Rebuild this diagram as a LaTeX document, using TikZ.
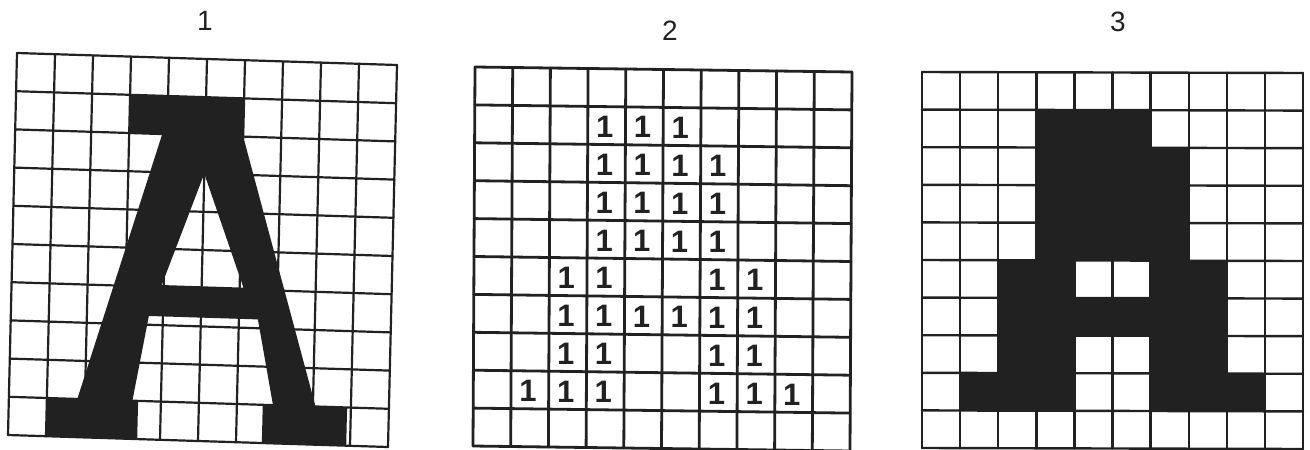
\documentclass[tikz,border=0pt]{standalone}
\usepackage{fontspec}
\setmainfont{Liberation Sans}
\definecolor{inkc}{gray}{0.13}
\begin{document}
\begin{tikzpicture}[x=1pt,y=-1pt,
  gl/.style={line width=#1, draw=inkc, line cap=round},
  ink/.style={fill=inkc, even odd rule},
  lbl/.style={font=\fontsize{28}{30}\selectfont, inner sep=0pt, text=inkc},
  one/.style={font=\bfseries\fontsize{31}{32}\selectfont, inner sep=0pt, text=inkc}]
\useasboundingbox (0,0) rectangle (1310,450);
\fill[white] (0,0) rectangle (1310,450);

% captions
\node[lbl] (lab1) at (205,21) {1};
\node[lbl] (lab2) at (670,31) {2};
\node[lbl] (lab3) at (1118,22) {3};

% grid 1 : drawn letter A
\begin{scope}[shift={(17pt,-53pt)}, x={(38pt,-1.2pt)}, y={(-0.9pt,-38.2pt)}]
  \foreach \i in {0,...,10} {
    \draw[gl=2.2pt] (\i,0) -- (\i,10);
    \draw[gl=2.2pt] (0,\i) -- (10,\i);
  }
  \fill[ink] (3,1) -- (6,1) -- (6,2) -- (8.07,9) -- (8.9,9) -- (8.9,10) -- (6.68,10) -- (6.68,9)
    -- (6.95,9) -- (6.5,6.77) -- (3.63,6.77) -- (3.25,9) -- (3.4,9) -- (3.4,10) -- (1,10)
    -- (1,9) -- (1.8,9) -- (3.87,2) -- (3,2) -- cycle
    (5,3) -- (6.1,5.95) -- (3.95,5.95) -- cycle;
\end{scope}

% grid 2 : ones
\begin{scope}[shift={(475pt,-67pt)}, x={(37.7pt,-0.5pt)}, y={(-0.2pt,-37.9pt)}]
  \foreach \i in {0,...,10} {
    \draw[gl=2.8pt] (\i,0) -- (\i,10);
    \draw[gl=2.8pt] (0,\i) -- (10,\i);
  }
  \foreach \c/\r in {3/1,4/1,5/1,
                     3/2,4/2,5/2,6/2,
                     3/3,4/3,5/3,6/3,
                     3/4,4/4,5/4,6/4,
                     2/5,3/5,6/5,7/5,
                     2/6,3/6,4/6,5/6,6/6,7/6,
                     2/7,3/7,6/7,7/7,
                     1/8,2/8,3/8,6/8,7/8,8/8}
    \node[one] (o-\c-\r) at (\c+0.45,\r+0.53) {1};
\end{scope}

% grid 3 : filled cells
\begin{scope}[shift={(922pt,-72pt)}, x={(38.1pt,-0.1pt)}, y={(0pt,-37.6pt)}]
  \fill[ink] (3,1) -- (6,1) -- (6,2) -- (7,2) -- (7,5) -- (8,5) -- (8,8) -- (9,8) -- (9,9)
    -- (6,9) -- (6,7) -- (4,7) -- (4,9) -- (1,9) -- (1,8) -- (2,8) -- (2,5) -- (3,5) -- cycle
    (4,5) -- (6,5) -- (6,6) -- (4,6) -- cycle;
  \foreach \i in {0,...,10} {
    \draw[gl=2.4pt] (\i,0) -- (\i,10);
    \draw[gl=2.4pt] (0,\i) -- (10,\i);
  }
\end{scope}
\end{tikzpicture}
\end{document}
